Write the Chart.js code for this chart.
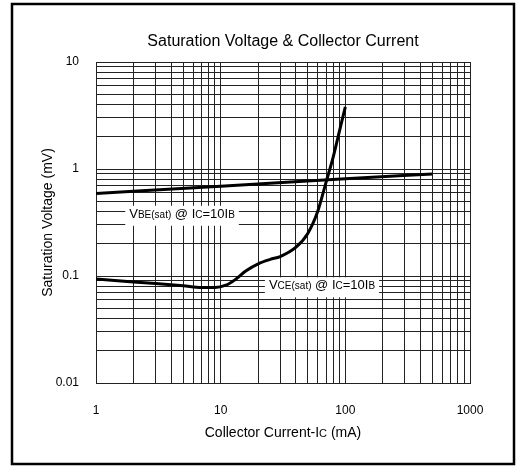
<!DOCTYPE html>
<html>
<head>
<meta charset="utf-8">
<script src="https://cdn.jsdelivr.net/npm/chart.js@4.4.1/dist/chart.umd.min.js"></script>
<style>
html, body { margin: 0; padding: 0; background: #fff; }
#wrap { width: 517px; height: 469px; }
</style>
</head>
<body>
<div id="wrap"><canvas id="myChart" width="517" height="469"></canvas></div>
<script>
// decades shown on the axes
const xMajor = [1, 10, 100, 1000];
const yMajor = [0.01, 0.1, 1, 10];

// VBE(sat) @ IC=10IB
const vbeCurrent = [1, 10, 100, 500];
const vbeVoltage = [0.59, 0.69, 0.81, 0.9];

// VCE(sat) @ IC=10IB
const vceCurrent = [1, 2, 3, 5, 7, 9, 11, 13, 16, 20, 25, 30, 40, 50, 60, 70, 80, 90, 100];
const vceVoltage = [0.094, 0.088, 0.085, 0.081, 0.078, 0.078, 0.082, 0.092, 0.112, 0.13, 0.143, 0.152, 0.185, 0.25, 0.4, 0.75, 1.3, 2.3, 3.8];

const FONT = 'Liberation Sans, Arial, sans-serif';

// 1..9 lines inside every decade
function logGrid(majors) {
  var out = [];
  for (var i = 0; i < majors.length - 1; i++) {
    for (var k = 1; k < 10; k++) {
      out.push(k == 1 ? majors[i] : +(majors[i] * k).toPrecision(6));
    }
  }
  out.push(majors[majors.length - 1]);
  return out;
}
const xGrid = logGrid(xMajor);
const yGrid = logGrid(yMajor);

function pts(xs, ys) {
  return xs.map(function (x, i) { return { x: x, y: ys[i] }; });
}

function drawRich(ctx, parts, cx, base) {
  var w = 0;
  parts.forEach(function (p) {
    ctx.font = p[1] + 'px ' + FONT;
    w += ctx.measureText(p[0]).width;
  });
  var x = cx - w / 2;
  ctx.textAlign = 'left';
  ctx.textBaseline = 'alphabetic';
  parts.forEach(function (p) {
    ctx.font = p[1] + 'px ' + FONT;
    ctx.fillText(p[0], x, base);
    x += ctx.measureText(p[0]).width;
  });
  return w;
}

// curve labels: [text parts, current, voltage]
const curveLabels = [
  [[['V', 13], ['BE(sat)', 10], [' @ I', 13], ['C', 10], ['=10I', 13], ['B', 10]], 4.9, 0.35],
  [[['V', 13], ['CE(sat)', 10], [' @ I', 13], ['C', 10], ['=10I', 13], ['B', 10]], 65, 0.075]
];

const decor = {
  id: 'decor',
  beforeDraw: function (chart) {
    var ctx = chart.ctx;
    ctx.save();
    ctx.fillStyle = '#fff';
    ctx.fillRect(0, 0, chart.width, chart.height);
    ctx.strokeStyle = '#000';
    ctx.lineWidth = 2.5;
    ctx.strokeRect(12, 4, 502, 460);
    ctx.restore();
  },
  beforeDatasetsDraw: function (chart) {
    var ctx = chart.ctx;
    ctx.save();
    ctx.fillStyle = '#000';
    curveLabels.forEach(function (l) {
      var cx = chart.scales.x.getPixelForValue(l[1]);
      var cy = chart.scales.y.getPixelForValue(l[2]);
      ctx.fillStyle = 'rgba(0,0,0,0)';
      var w = drawRich(ctx, l[0], cx, cy);
      ctx.fillStyle = '#fff';
      ctx.fillRect(cx - w / 2 - 4, cy - 12, w + 8, 20);
      ctx.fillStyle = '#000';
      drawRich(ctx, l[0], cx, cy);
    });
    ctx.restore();
  },
  afterDraw: function (chart) {
    var ctx = chart.ctx;
    var a = chart.chartArea;
    var mid = (a.left + a.right) / 2;
    ctx.save();
    ctx.fillStyle = '#000';
    ctx.textAlign = 'center';
    ctx.textBaseline = 'middle';
    ctx.font = '16px ' + FONT;
    ctx.fillText('Saturation Voltage & Collector Current', mid, 42);
    drawRich(ctx, [['Collector Current-I', 14], ['C', 11], [' (mA)', 14]], mid, 437);
    ctx.translate(48, (a.top + a.bottom) / 2);
    ctx.rotate(-Math.PI / 2);
    ctx.textAlign = 'center';
    ctx.textBaseline = 'middle';
    ctx.font = '14px ' + FONT;
    ctx.fillText('Saturation Voltage (mV)', 0, 0);
    ctx.restore();
  }
};

const ctx = document.getElementById('myChart');

new Chart(ctx, {
  type: 'line',
  data: {
    datasets: [{
      label: 'VBE(sat)',
      data: pts(vbeCurrent, vbeVoltage),
      borderColor: '#000',
      borderWidth: 3,
      pointRadius: 0,
      tension: 0.4,
      cubicInterpolationMode: 'monotone'
    }, {
      label: 'VCE(sat)',
      data: pts(vceCurrent, vceVoltage),
      borderColor: '#000',
      borderWidth: 3,
      pointRadius: 0,
      tension: 0.4,
      cubicInterpolationMode: 'monotone'
    }]
  },
  options: {
    responsive: false,
    animation: false,
    layout: { padding: { left: 12, top: 62, right: 47, bottom: 0 } },
    plugins: { legend: { display: false }, title: { display: false }, tooltip: { enabled: false } },
    scales: {
      x: {
        type: 'logarithmic',
        min: 1, max: 1000,
        afterBuildTicks: function (s) { s.ticks = xGrid.map(function (v) { return { value: v }; }); },
        afterFit: function (s) { s.height = 86; },
        grid: { color: '#222', lineWidth: 1, drawTicks: false },
        border: { color: '#222' },
        ticks: {
          autoSkip: false, maxRotation: 0, padding: 20, color: '#000',
          font: { family: FONT, size: 12 },
          callback: function (v) { return xMajor.indexOf(v) >= 0 ? String(v) : ''; }
        }
      },
      y: {
        type: 'logarithmic',
        min: 0.01, max: 10,
        afterBuildTicks: function (s) { s.ticks = yGrid.map(function (v) { return { value: v }; }); },
        afterFit: function (s) { s.width = 84; },
        grid: { color: '#222', lineWidth: 1, drawTicks: false },
        border: { color: '#222' },
        ticks: {
          autoSkip: false, padding: 17, color: '#000',
          font: { family: FONT, size: 12 },
          callback: function (v) { return yMajor.indexOf(v) >= 0 ? String(v) : ''; }
        }
      }
    }
  },
  plugins: [decor]
});
</script>
</body>
</html>
